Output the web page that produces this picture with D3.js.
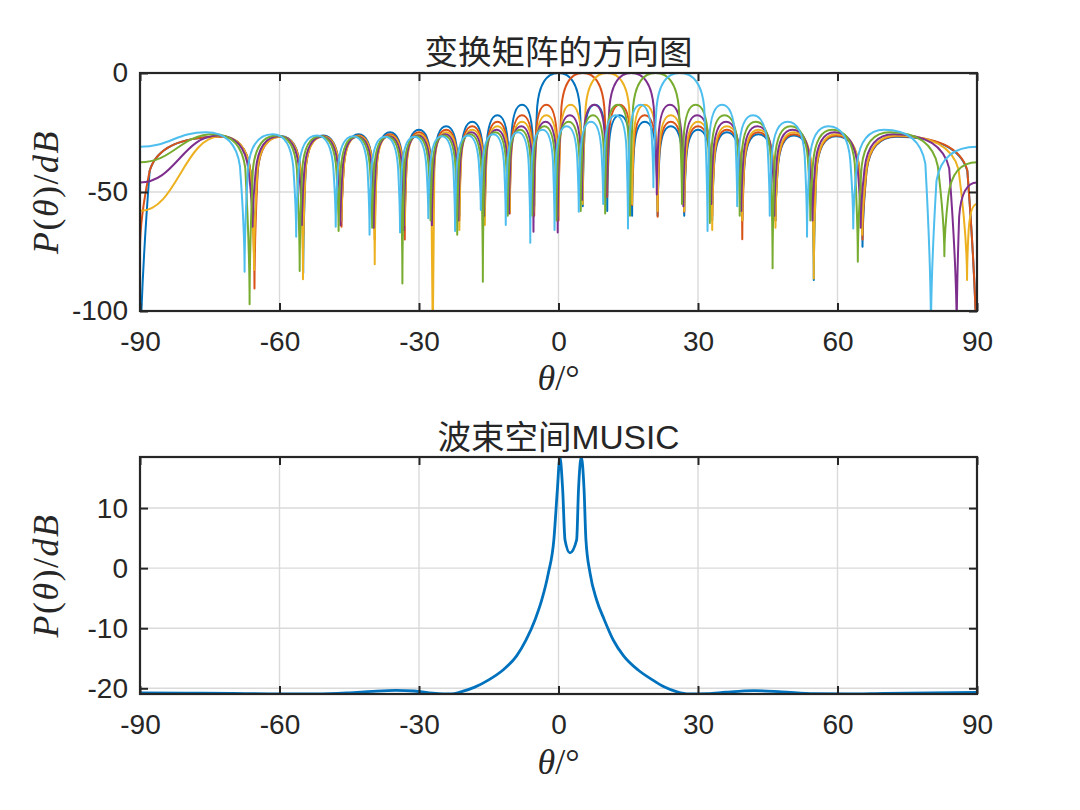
<!DOCTYPE html>
<html>
<head>
<meta charset="utf-8">
<script src="https://cdn.jsdelivr.net/npm/d3@7"></script>
<style>
  html, body { margin: 0; padding: 0; background: #ffffff; }
  svg { display: block; }
</style>
</head>
<body>
<svg id="chart" width="1080" height="810"></svg>
<script>
// ---------------- data ----------------
const thetaTicks = [-90, -60, -30, 0, 30, 60, 90];
const topYTicks = [0, -50, -100];
const bottomYTicks = [10, 0, -10, -20];

const topTitle = "变换矩阵的方向图";
const bottomTitle = "波束空间MUSIC";

const seriesNames = ["beam1", "beam2", "beam3", "beam4", "beam5", "beam6"];
const seriesColors = ["#0072BD", "#D95319", "#EDB120", "#7E2F8E", "#77AC30", "#4DBEEE"];

// each beam: [theta (deg), level (dB)] at lobe peaks, nulls and the two ends
const beam1 = [[-90,-130],[-72.65,-26.8],[-65.38,-75],[-59.72,-26.6],[-54.90,-84],[-50.60,-26.3],[-46.66,-62],[-42.98,-25.7],[-39.52,-62],[-36.22,-24.9],[-33.06,-62],[-30.00,-23.8],[-27.04,-60],[-24.15,-22.4],[-21.32,-60],[-18.55,-20.5],[-15.83,-60],[-13.14,-17.7],[-10.48,-58],[-7.84,-13.3],[-5.22,-56],[0,0],[5.22,-56],[7.84,-13.3],[10.48,-58],[13.14,-17.7],[15.83,-60],[18.55,-20.5],[21.32,-60],[24.15,-22.4],[27.04,-60],[30.00,-23.8],[33.06,-62],[36.22,-24.9],[39.52,-62],[42.98,-25.7],[46.66,-62],[50.60,-26.3],[54.90,-87],[59.72,-26.6],[65.38,-73],[72.65,-26.8],[90,-130]];
const beam2 = [[-90,-74],[-72.65,-26.8],[-65.38,-90.5],[-59.72,-26.8],[-54.90,-68],[-50.60,-26.6],[-46.66,-64.6],[-42.98,-26.3],[-39.52,-70],[-36.22,-25.7],[-33.06,-70],[-30.00,-24.9],[-27.04,-62],[-24.15,-23.8],[-21.32,-62],[-18.55,-22.4],[-15.83,-60],[-13.14,-20.5],[-10.48,-59],[-7.84,-17.7],[-5.22,-60],[-2.61,-13.3],[0,-62],[5.22,0],[10.48,-52],[13.14,-13.3],[15.83,-55.5],[18.55,-17.7],[21.32,-60.4],[24.15,-20.5],[27.04,-58.3],[30.00,-22.4],[33.06,-60],[36.22,-23.8],[39.52,-69.9],[42.98,-24.9],[46.66,-62],[50.60,-25.7],[54.90,-63],[59.72,-26.3],[65.38,-70],[72.65,-26.6],[90,-130]];
const beam3 = [[-90,-58],[-72.65,-26.6],[-65.48,-82.8],[-59.72,-26.8],[-54.95,-86.7],[-50.60,-26.8],[-46.66,-62],[-42.98,-26.6],[-39.52,-80.4],[-36.22,-26.3],[-33.06,-64],[-30.00,-25.7],[-27.04,-110],[-24.15,-24.9],[-21.32,-66],[-18.55,-23.8],[-15.83,-63.9],[-13.14,-22.4],[-10.48,-58],[-7.84,-20.5],[-5.22,-58],[-2.61,-17.7],[0,-60],[2.61,-13.3],[5.22,-55],[10.43,0],[15.83,-55],[18.55,-13.3],[21.32,-58],[24.15,-17.7],[27.04,-58],[30.00,-20.5],[33.06,-66],[36.22,-22.4],[39.52,-62],[42.98,-23.8],[46.66,-65],[50.60,-24.9],[54.90,-86.3],[59.72,-25.7],[65.30,-68],[72.65,-26.3],[87.86,-87],[90,-55]];
const beam4 = [[-90,-46],[-73.2,-26.3],[-65.79,-64.6],[-60.06,-26.6],[-55.19,-63.9],[-50.86,-26.8],[-46.9,-64],[-43.21,-26.8],[-39.74,-65],[-36.43,-26.6],[-33.26,-66],[-30.19,-26.3],[-27.22,-64],[-24.33,-25.7],[-21.5,-62],[-18.73,-24.9],[-16.0,-60],[-13.31,-23.8],[-10.64,-59],[-8.01,-22.4],[-5.38,-66.7],[-2.77,-20.5],[-0.17,-67],[2.44,-17.7],[5.05,-53.4],[7.67,-13.3],[10.31,-52],[15.65,0],[21.14,-51],[23.97,-13.3],[26.85,-56],[29.81,-17.7],[32.86,-55],[36.02,-20.5],[39.31,-58],[42.76,-22.4],[46.42,-60],[50.33,-23.8],[54.62,-62],[59.37,-24.9],[64.98,-65],[72.1,-25.7],[85.64,-110],[90,-46]];
const beam5 = [[-90,-37.5],[-74.16,-25.7],[-66.43,-97.2],[-60.58,-26.3],[-55.66,-83.2],[-51.28,-26.6],[-47.29,-66.4],[-43.57,-26.8],[-40.08,-65],[-36.75,-26.8],[-33.57,-88.4],[-30.5,-26.6],[-27.52,-62],[-24.62,-26.3],[-21.78,-68],[-19.01,-25.7],[-16.27,-87.7],[-13.58,-24.9],[-10.91,-60],[-8.27,-23.8],[-5.65,-60],[-3.04,-22.4],[-0.43,-62],[2.18,-20.5],[4.78,-58],[7.41,-17.7],[10.04,-59],[12.7,-13.3],[15.38,-60],[20.86,0],[26.55,-55],[29.5,-13.3],[32.55,-63],[35.69,-17.7],[38.97,-60],[42.4,-20.5],[46.04,-82],[49.92,-22.4],[54.16,-62],[58.88,-23.8],[64.37,-79.3],[71.26,-24.9],[82.98,-77],[90,-37.5]];
const beam6 = [[-90,-31],[-75.8,-24.9],[-67.51,-83.5],[-61.45,-25.7],[-56.41,-68.8],[-51.96,-26.3],[-47.91,-64.6],[-44.16,-26.6],[-40.63,-68],[-37.29,-26.8],[-34.08,-67],[-30.99,-26.8],[-28.0,-61],[-25.09,-26.6],[-22.24,-66.4],[-19.46,-26.3],[-16.71,-57.6],[-14.02,-25.7],[-11.34,-63.9],[-8.70,-24.9],[-6.07,-71.3],[-3.46,-23.8],[-0.85,-66],[1.75,-22.4],[4.36,-58.3],[6.98,-20.5],[9.61,-55],[12.26,-17.7],[14.94,-65.3],[17.66,-13.3],[20.41,-48],[26.08,0],[32.05,-66.4],[35.17,-13.3],[38.43,-56],[41.83,-17.7],[45.43,-60],[49.27,-20.5],[53.45,-68.8],[58.07,-22.4],[63.39,-65.3],[70.03,-23.8],[80.1,-110],[90,-31]];

const beams = [beam1, beam2, beam3, beam4, beam5, beam6];

// MUSIC spectrum [theta (deg), P (dB)]
const musicTheta = [-90,-80,-70,-60,-52,-45,-40,-35,-31,-27,-23,-21,-18,-15,-12,-9,-7,-5,-3.6,-2.2,-1.0,-0.25,0.3,0.9,1.4,2.47,3.9,4.3,4.9,5.5,5.9,6.8,8.2,9.8,11.8,14.0,17.2,20.2,22.8,25.5,28,32,36,42,48,55,62,70,80,90];
const musicValue = [-20.75,-20.8,-20.85,-20.95,-20.95,-20.75,-20.5,-20.35,-20.45,-20.8,-20.95,-20.6,-19.8,-18.6,-17.0,-14.6,-12.0,-8.5,-5.3,-0.9,4.7,13,18.5,13,4.7,2.55,4.7,13,18.5,13,4.7,-0.9,-5.3,-8.5,-12,-14.6,-17,-18.6,-19.8,-20.6,-20.95,-20.9,-20.65,-20.4,-20.6,-20.9,-20.95,-20.85,-20.75,-20.7];

// ---------------- layout ----------------
const svg = d3.select("#chart");
const L = 140, R = 977;
const topBox = { top: 73, bottom: 311 };
const botBox = { top: 457, bottom: 694 };
const textColor = "#262626";
const gridColor = "#dadada";
const sansFont = "'Liberation Sans', Arial, 'Noto Sans CJK SC', sans-serif";
const serifFont = "'Liberation Serif', 'Times New Roman', serif";

const x = d3.scaleLinear().domain([-90, 90]).range([L, R]);
const yTop = d3.scaleLinear().domain([-100, 0]).range([topBox.bottom, topBox.top]);
const yBot = d3.scaleLinear().domain([-20.95, 18.5]).range([botBox.bottom, botBox.top]);

const defs = svg.append("defs");
defs.append("clipPath").attr("id", "clipTop").append("rect")
  .attr("x", L).attr("y", topBox.top).attr("width", R - L).attr("height", topBox.bottom - topBox.top);
defs.append("clipPath").attr("id", "clipBot").append("rect")
  .attr("x", L).attr("y", botBox.top).attr("width", R - L).attr("height", botBox.bottom - botBox.top);

function drawFrame(y, box, yTicks) {
  const g = svg.append("g");
  g.selectAll("line.gx").data(thetaTicks.slice(1, -1)).enter().append("line")
    .attr("x1", d => x(d)).attr("x2", d => x(d)).attr("y1", box.top).attr("y2", box.bottom)
    .attr("stroke", gridColor).attr("stroke-width", 1.4);
  g.selectAll("line.gy").data(yTicks.filter(v => y(v) > box.top + 1 && y(v) < box.bottom - 1)).enter().append("line")
    .attr("y1", d => y(d)).attr("y2", d => y(d)).attr("x1", L).attr("x2", R)
    .attr("stroke", gridColor).attr("stroke-width", 1.4);
  return g;
}

const plainNum = d => String(d);

function drawAxes(y, box, yTicks) {
  const g = svg.append("g");
  const bottomAxis = d3.axisBottom(x).tickValues(thetaTicks).tickSize(-8).tickPadding(20).tickFormat(plainNum);
  const topAxis = d3.axisTop(x).tickValues(thetaTicks).tickSize(-8).tickFormat("");
  const leftAxis = d3.axisLeft(y).tickValues(yTicks).tickSize(-8).tickPadding(12).tickFormat(plainNum);
  const rightAxis = d3.axisRight(y).tickValues(yTicks).tickSize(-8).tickFormat("");
  const ab = g.append("g").attr("transform", `translate(0,${box.bottom})`).call(bottomAxis);
  const at = g.append("g").attr("transform", `translate(0,${box.top})`).call(topAxis);
  const al = g.append("g").attr("transform", `translate(${L},0)`).call(leftAxis);
  const ar = g.append("g").attr("transform", `translate(${R},0)`).call(rightAxis);
  [ab, at, al, ar].forEach(a => {
    a.select(".domain").remove();
    a.selectAll(".tick line").attr("stroke", textColor).attr("stroke-width", 2);
    a.selectAll(".tick text").attr("fill", textColor).style("font-family", sansFont).style("font-size", "28px");
  });
  g.append("rect").attr("x", L).attr("y", box.top).attr("width", R - L).attr("height", box.bottom - box.top)
    .attr("fill", "none").attr("stroke", textColor).attr("stroke-width", 2.2);
}

// custom lobe path (cusp at nulls, flat tops at lobe peaks)
function dropSegs(p, q) {
  const dx = q[0] - p[0], dy = q[1] - p[1];
  const drop = Math.min(34, 0.6 * dy);
  const k = [p[0] + 0.88 * dx, p[1] + drop];
  const rest = q[1] - k[1];
  return [
    [p, [p[0] + 0.5 * dx, p[1]], [p[0] + 0.8 * dx, p[1] + 0.35 * drop], k],
    [k, [k[0] + 0.07 * dx, k[1] + 0.35 * rest], [q[0], k[1] + 0.7 * rest], q]
  ];
}
function lobePath(pts, y) {
  const P = pts.map(d => [x(d[0]), y(d[1])]);
  const vals = pts.map(d => d[1]);
  const n = P.length;
  const type = vals.map((v, i) => {
    if (i === 0 || i === n - 1) return v < -65 ? "V" : "H";
    return (v < vals[i - 1] && v < vals[i + 1]) ? "V" : "H";
  });
  const path = d3.path();
  path.moveTo(P[0][0], P[0][1]);
  for (let i = 0; i < n - 1; i++) {
    const a = P[i], b = P[i + 1];
    let segs;
    if (type[i] === "H" && type[i + 1] === "V") segs = dropSegs(a, b);
    else if (type[i] === "V" && type[i + 1] === "H") segs = dropSegs(b, a).reverse().map(s => [s[3], s[2], s[1], s[0]]);
    else if (type[i] === "H" && type[i + 1] === "H") {
      const dx = b[0] - a[0];
      segs = [[a, [a[0] + 0.45 * dx, a[1]], [b[0] - 0.45 * dx, b[1]], b]];
    } else segs = [[a, a, b, b]];
    segs.forEach(s => path.bezierCurveTo(s[1][0], s[1][1], s[2][0], s[2][1], s[3][0], s[3][1]));
  }
  return path.toString();
}

// ---------------- top panel ----------------
drawFrame(yTop, topBox, topYTicks);
const gTop = svg.append("g").attr("clip-path", "url(#clipTop)");
gTop.selectAll("path.beam").data(beams).enter().append("path")
  .attr("class", (d, i) => "beam " + seriesNames[i])
  .attr("d", d => lobePath(d, yTop))
  .attr("fill", "none")
  .attr("stroke", (d, i) => seriesColors[i])
  .attr("stroke-width", 2)
  .attr("stroke-linejoin", "round");
drawAxes(yTop, topBox, topYTicks);

// ---------------- bottom panel ----------------
drawFrame(yBot, botBox, bottomYTicks);
const musicData = musicTheta.map((t, i) => [t, musicValue[i]]);
svg.append("g").attr("clip-path", "url(#clipBot)").append("path")
  .datum(musicData)
  .attr("d", d3.line().x(d => x(d[0])).y(d => yBot(d[1])).curve(d3.curveMonotoneX))
  .attr("fill", "none").attr("stroke", "#0072BD").attr("stroke-width", 2.8).attr("stroke-linejoin", "round");
drawAxes(yBot, botBox, bottomYTicks);

// ---------------- texts ----------------
function title(txt, yPos) {
  svg.append("text").attr("x", (L + R) / 2).attr("y", yPos).attr("text-anchor", "middle")
    .attr("fill", textColor).style("font-family", sansFont).style("font-size", "33.5px").text(txt);
}
title(topTitle, 64);
title(bottomTitle, 449);

function yLabel(cy) {
  const t = svg.append("text").attr("transform", `translate(58,${cy}) rotate(-90)`)
    .attr("text-anchor", "middle").attr("fill", textColor)
    .style("font-family", serifFont).style("font-size", "36px").style("letter-spacing", "1.5px");
  t.append("tspan").style("font-style", "italic").text("P");
  t.append("tspan").text("(");
  t.append("tspan").style("font-style", "italic").text("θ");
  t.append("tspan").text(")/");
  t.append("tspan").style("font-style", "italic").text("dB");
}
yLabel((topBox.top + topBox.bottom) / 2);
yLabel((botBox.top + botBox.bottom) / 2);

function xLabel(yPos) {
  const t = svg.append("text").attr("x", (L + R) / 2).attr("y", yPos).attr("text-anchor", "middle")
    .attr("fill", textColor).style("font-family", serifFont).style("font-size", "36px");
  t.append("tspan").style("font-style", "italic").text("θ");
  t.append("tspan").text("/°");
}
xLabel(390);
xLabel(774);
</script>
</body>
</html>
